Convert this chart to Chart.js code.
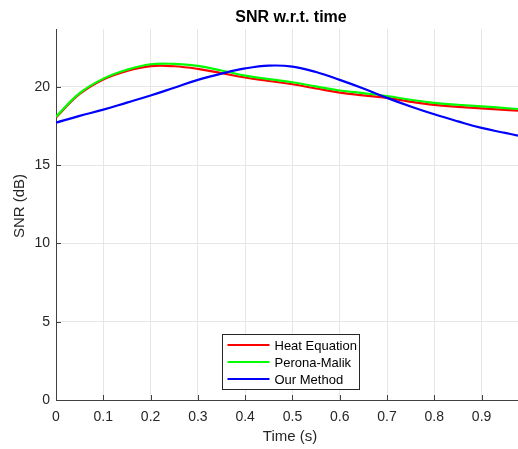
<!DOCTYPE html>
<html>
<head>
<meta charset="utf-8">
<script src="https://cdn.jsdelivr.net/npm/chart.js@4"></script>
<style>
  html, body { margin: 0; padding: 0; background: #fff; }
  #wrap { width: 518px; height: 449px; }
</style>
</head>
<body>
<div id="wrap"><canvas id="snrChart" width="518" height="449"></canvas></div>
<script>
// values
const timeS = [0, 0.05, 0.1, 0.15, 0.2, 0.25, 0.3, 0.35, 0.4, 0.45, 0.5, 0.55, 0.6, 0.65, 0.7, 0.75, 0.8, 0.85, 0.9, 0.95, 0.977];
const heatEq = [18.05, 19.55, 20.48, 21.02, 21.33, 21.32, 21.15, 20.88, 20.6, 20.38, 20.17, 19.9, 19.64, 19.46, 19.3, 19.05, 18.85, 18.73, 18.63, 18.53, 18.49];
const peronaMalik = [18.1, 19.6, 20.53, 21.1, 21.45, 21.47, 21.34, 21.05, 20.72, 20.5, 20.3, 20.03, 19.77, 19.6, 19.42, 19.18, 18.98, 18.86, 18.76, 18.65, 18.59];
const ourMethod = [17.72, 18.15, 18.55, 19.0, 19.45, 19.95, 20.45, 20.85, 21.18, 21.36, 21.3, 20.95, 20.45, 19.9, 19.3, 18.75, 18.25, 17.8, 17.38, 17.06, 16.89];
const seriesNames = ['Heat Equation', 'Perona-Malik', 'Our Method'];
const xTicks = [0, 0.1, 0.2, 0.3, 0.4, 0.5, 0.6, 0.7, 0.8, 0.9];
const yTicks = [0, 5, 10, 15, 20];

const FONT = '"Liberation Sans", Arial, Helvetica, sans-serif';
const AXIS = '#404040';

function pts(ys) {
  return timeS.map((t, i) => ({ x: t, y: ys[i] }));
}

// MATLAB-ish inward ticks, titles and legend
const decor = {
  id: 'decor',
  afterDraw(chart) {
    const { ctx, chartArea, scales } = chart;
    ctx.save();
    ctx.strokeStyle = AXIS;
    ctx.lineWidth = 1;
    xTicks.forEach(v => {
      const x = Math.round(scales.x.getPixelForValue(v)) + 0.5;
      ctx.beginPath();
      ctx.moveTo(x, chartArea.bottom);
      ctx.lineTo(x, chartArea.bottom - 5);
      ctx.stroke();
    });
    yTicks.forEach(v => {
      const y = Math.round(scales.y.getPixelForValue(v)) + 0.5;
      ctx.beginPath();
      ctx.moveTo(chartArea.left, y);
      ctx.lineTo(chartArea.left + 5, y);
      ctx.stroke();
    });
    const midX = (chartArea.left + chartArea.right) / 2;
    ctx.fillStyle = '#000';
    ctx.font = 'bold 16px ' + FONT;
    ctx.textAlign = 'center';
    ctx.textBaseline = 'middle';
    ctx.fillText('SNR w.r.t. time', midX + 4, 18);

    ctx.fillStyle = '#262626';
    ctx.font = '15px ' + FONT;
    ctx.fillText('Time (s)', midX + 3, 437);
    ctx.save();
    ctx.translate(20, 206);
    ctx.rotate(-Math.PI / 2);
    ctx.fillText('SNR (dB)', 0, 0);
    ctx.restore();

    // legend box inside the axes
    const ds = chart.data.datasets;
    const boxW = 137, rowH = 17;
    const boxH = rowH * ds.length + 4;
    const bx = Math.round(midX + 3 - boxW / 2) + 0.5;
    const by = Math.round(chartArea.bottom - 11 - boxH) + 0.5;
    ctx.fillStyle = '#fff';
    ctx.fillRect(bx, by, boxW, boxH);
    ctx.strokeStyle = '#262626';
    ctx.lineWidth = 1;
    ctx.strokeRect(bx, by, boxW, boxH);
    ctx.font = '13px ' + FONT;
    ctx.textAlign = 'left';
    ds.forEach((d, i) => {
      const cy = by + 2 + rowH * i + rowH / 2;
      ctx.strokeStyle = d.borderColor;
      ctx.lineWidth = 2;
      ctx.beginPath();
      ctx.moveTo(bx + 5, cy);
      ctx.lineTo(bx + 47, cy);
      ctx.stroke();
      ctx.fillStyle = '#000';
      ctx.fillText(d.label, bx + 52, cy + 1);
    });
    ctx.restore();
  }
};

new Chart(document.getElementById('snrChart'), {
  type: 'line',
  data: {
    datasets: [
      { label: seriesNames[0], data: pts(heatEq), borderColor: '#ff0000', order: 3 },
      { label: seriesNames[1], data: pts(peronaMalik), borderColor: '#00ff00', order: 2 },
      { label: seriesNames[2], data: pts(ourMethod), borderColor: '#0000ff', order: 1 }
    ].map(d => Object.assign(d, {
      borderWidth: 2.2,
      pointRadius: 0,
      fill: false,
      tension: 0.4
    }))
  },
  options: {
    responsive: false,
    animation: false,
    layout: { padding: { top: 29, right: 0, left: 0, bottom: 0 } },
    plugins: { legend: { display: false }, title: { display: false }, tooltip: { enabled: false } },
    scales: {
      x: {
        type: 'linear',
        min: 0,
        max: 0.977,
        afterFit(s) { s.height = 49; },
        afterBuildTicks(s) { s.ticks = xTicks.map(v => ({ value: v })); },
        ticks: { color: '#262626', font: { family: FONT, size: 14 }, padding: 9, maxRotation: 0, autoSkip: false,
          callback: v => String(v) },
        grid: { color: '#e6e6e6', drawTicks: false },
        border: { color: AXIS, width: 1 },
        title: { display: false }
      },
      y: {
        min: 0,
        max: 23.7,
        afterFit(s) { s.width = 56; },
        afterBuildTicks(s) { s.ticks = yTicks.map(v => ({ value: v })); },
        ticks: { color: '#262626', font: { family: FONT, size: 14 }, padding: 6 },
        grid: { color: '#e6e6e6', drawTicks: false },
        border: { color: AXIS, width: 1 },
        title: { display: false }
      }
    }
  },
  plugins: [decor]
});
</script>
</body>
</html>
